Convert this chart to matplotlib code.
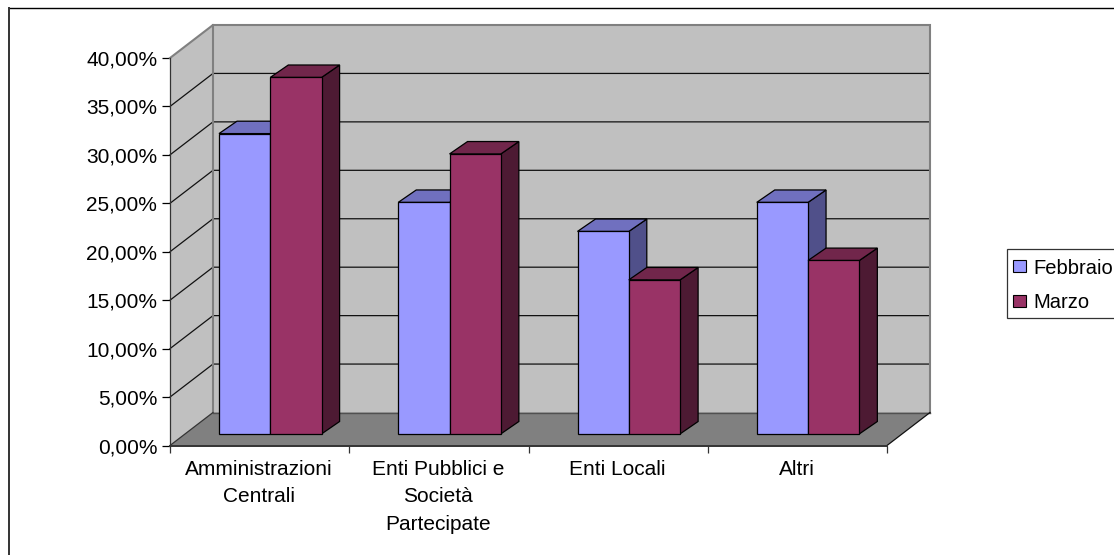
import matplotlib
matplotlib.use("Agg")
import matplotlib.pyplot as plt
from matplotlib.lines import Line2D
from matplotlib.patches import Polygon, Patch, Rectangle

plt.rcParams["font.family"] = ["Liberation Sans", "DejaVu Sans"]

categories = ["Amministrazioni\nCentrali", "Enti Pubblici e\nSocietà\nPartecipate", "Enti Locali", "Altri"]
febbraio = [31.0, 23.9, 20.9, 23.9]
marzo = [36.8, 28.9, 15.9, 17.9]
series_names = ["Febbraio", "Marzo"]
y_ticks = [0, 5, 10, 15, 20, 25, 30, 35, 40]

W, H = 1114, 555
fig = plt.figure(figsize=(W / 100, H / 100), dpi=100, facecolor="white")

# Front plane of the box: the axes rectangle in pixels
LEFT, RIGHT, BOTTOM, TOP = 170, 887, 445.5, 58
ax = fig.add_axes([LEFT / W, 1 - BOTTOM / H, (RIGHT - LEFT) / W, (BOTTOM - TOP) / H])
ax.set_xlim(0, len(categories))
ax.set_ylim(0, 40)
ax.patch.set_visible(False)

px_x = len(categories) / (RIGHT - LEFT)
px_y = 40 / (BOTTOM - TOP)
DEPTH_X, DEPTH_Y = 43 * px_x, 33 * px_y        # full box depth, data units
BAR_X, BAR_Y = 18 * px_x, 12.4 * px_y          # bar depth, data units
FRONT_X, FRONT_Y = 49 * px_x, 11.6 * px_y      # front-left bar corner from the slot origin
BAR_W = 51.3 * px_x

WALL, FLOOR, EDGE = "#c0c0c0", "#808080", "#808080"
COLORS = [("#9999ff", "#7070bf", "#50508a"), ("#993366", "#71264b", "#4d1a33")]


def poly(points, face, edge="black", lw=0.9, z=1):
    ax.add_patch(Polygon(points, closed=True, facecolor=face, edgecolor=edge,
                         linewidth=lw, zorder=z, clip_on=False, joinstyle="miter"))


n = len(categories)
# Back wall, side wall and floor
poly([(DEPTH_X, 0 + DEPTH_Y), (n + DEPTH_X, DEPTH_Y), (n + DEPTH_X, 40 + DEPTH_Y), (DEPTH_X, 40 + DEPTH_Y)],
     WALL, "none", 0, 1)
poly([(0, 0), (DEPTH_X, DEPTH_Y), (DEPTH_X, 40 + DEPTH_Y), (0, 40)], WALL, "none", 0, 1)

# Grid lines run along the side wall and then across the back wall
for v in y_ticks[1:-1]:
    ax.plot([0, DEPTH_X, n + DEPTH_X], [v, v + DEPTH_Y, v + DEPTH_Y],
            color="#111111", lw=0.9, zorder=2, clip_on=False, solid_joinstyle="miter")

# Grey outline of the walls goes over the grid ends
ax.plot([0, DEPTH_X, n + DEPTH_X, n + DEPTH_X], [40, 40 + DEPTH_Y, 40 + DEPTH_Y, DEPTH_Y],
        color=EDGE, lw=1.5, zorder=2.5, clip_on=False, solid_joinstyle="miter")
ax.plot([DEPTH_X, DEPTH_X], [DEPTH_Y, 40 + DEPTH_Y], color=EDGE, lw=1.5, zorder=2.5, clip_on=False)

poly([(0, 0), (n, 0), (n + DEPTH_X, DEPTH_Y), (DEPTH_X, DEPTH_Y)], FLOOR, "none", 0, 3)
ax.plot([DEPTH_X, n + DEPTH_X], [DEPTH_Y, DEPTH_Y], color="#505050", lw=1.0, zorder=3.1, clip_on=False)
ax.plot([0, DEPTH_X], [0, DEPTH_Y], color="#333333", lw=0.9, zorder=3.1, clip_on=False)
ax.plot([n, n + DEPTH_X], [0, DEPTH_Y], color="#111111", lw=0.9, zorder=3.1, clip_on=False)

# Bars, drawn series by series inside each category slot
for i in range(n):
    for s, values in enumerate([febbraio, marzo]):
        x0 = i + FRONT_X + s * BAR_W
        x1 = x0 + BAR_W
        y0 = FRONT_Y
        y1 = FRONT_Y + values[i]
        front, top, side = COLORS[s]
        z = 4 + s
        poly([(x1, y0), (x1 + BAR_X, y0 + BAR_Y), (x1 + BAR_X, y1 + BAR_Y), (x1, y1)], side, z=z)
        poly([(x0, y1), (x1, y1), (x1 + BAR_X, y1 + BAR_Y), (x0 + BAR_X, y1 + BAR_Y)], top, z=z)
        poly([(x0, y0), (x1, y0), (x1, y1), (x0, y1)], front, z=z)

# Axes: only the left and bottom spines, on top of the box
for name in ("top", "right"):
    ax.spines[name].set_visible(False)
ax.spines["left"].set_linewidth(0.9)
ax.spines["left"].set_color("#333333")
ax.spines["bottom"].set_linewidth(1.4)
ax.spines["bottom"].set_color("#333333")
ax.spines["left"].set_zorder(8)
ax.spines["bottom"].set_zorder(8)

ax.set_yticks(y_ticks)
ax.set_yticklabels([f"{v:.2f}%".replace(".", ",") for v in y_ticks])
ax.tick_params(axis="y", length=5.5, width=0.9, pad=3.7, labelsize=15, colors="black")
ax.set_xticks(range(n + 1))
ax.set_xticklabels([])
ax.tick_params(axis="x", length=4.7, width=0.9, colors="#333333")
for i, label in enumerate(categories):
    ax.annotate(label, xy=(i + 0.5, 0), xytext=(-0.5, -10.5), textcoords="offset points",
                ha="center", va="top", fontsize=15, linespacing=1.56, annotation_clip=False)

# Outer chart frame: only its top and left sides fall inside the image
fig.add_artist(Line2D([8.5 / W, 1], [1 - 7.5 / H, 1 - 7.5 / H], transform=fig.transFigure,
                      color="black", lw=1.0, solid_capstyle="projecting"))
fig.add_artist(Line2D([8.5 / W, 8.5 / W], [1 - 7.5 / H, 0], transform=fig.transFigure,
                      color="#333333", lw=1.4))

# Legend box runs off the right edge as well; its entries sit in a frameless legend
fig.add_artist(Rectangle((1006.5 / W, 1 - 317.5 / H), 0.2, 68.5 / H, transform=fig.transFigure,
                         facecolor="white", edgecolor="#333333", linewidth=0.9))
handles = [Patch(facecolor=COLORS[k][0], edgecolor="black", linewidth=0.8) for k in range(2)]
fig.legend(handles, series_names, loc="upper left", bbox_to_anchor=(1013 / W, 1 - 258.5 / H),
           fontsize=14.5, frameon=False, borderpad=0, borderaxespad=0, labelspacing=0.77,
           handlelength=0.65, handleheight=0.55, handletextpad=0.35)

fig.savefig("out.png", dpi=100)
